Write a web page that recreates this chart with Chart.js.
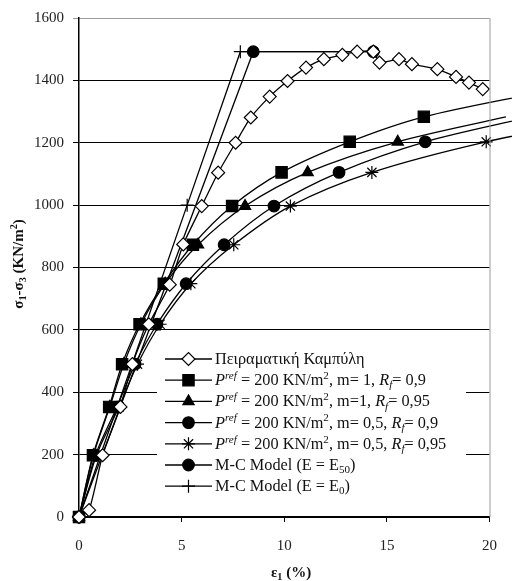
<!DOCTYPE html>
<html>
<head>
<meta charset="utf-8">
<script src="https://cdn.jsdelivr.net/npm/chart.js@4"></script>
<style>
  html, body { margin: 0; padding: 0; background: #fff; }
  #wrap { width: 512px; height: 581px; }
</style>
</head>
<body>
<div id="wrap"><canvas id="myChart" width="512" height="581"></canvas></div>
<script>
// データ (ε1 %, σ1-σ3 KN/m2)
const expStrain = [0, 0.49, 1.15, 2.02, 2.6, 3.4, 4.42, 5.08, 5.98, 6.78, 7.63, 8.37, 9.29, 10.16, 11.06, 11.93, 12.83, 13.55, 14.34, 14.64, 15.59, 16.22, 17.46, 18.37, 19.0, 19.67];
const expStress = [0, 22, 198, 353, 490, 618, 745, 874, 997, 1104, 1200, 1281, 1348, 1398, 1441, 1468, 1482, 1492, 1492, 1457, 1468, 1452, 1436, 1411, 1393, 1372];

// HS model: same stress levels, different strains
const hsStress = [0, 198, 353, 490, 618, 748, 873, 997, 1105, 1203, 1283, 1362];
const sqStrain = [0, 0.68, 1.47, 2.1, 2.95, 4.13, 5.55, 7.46, 9.87, 13.19, 16.8, 22.5];
const triStrain = [0, 0.7, 1.5, 2.18, 3.02, 4.2, 5.8, 8.09, 11.14, 15.53, 20.8];
const cirStrain = [0, 0.8, 1.85, 2.73, 3.8, 5.22, 7.07, 9.5, 12.67, 16.87, 22.0];
const starStrain = [0, 0.85, 1.95, 2.85, 3.95, 5.45, 7.54, 10.3, 14.27, 19.84, 26.0];

// Mohr-Coulomb
const mc50Strain = [0, 8.49, 14.34];
const mc50Stress = [0, 1492, 1492];
const mc0Strain = [0, 5.27, 7.86, 14.34];
const mc0Stress = [0, 1000, 1492, 1492];

const xTicks = [0, 5, 10, 15, 20];
const yTicks = [0, 200, 400, 600, 800, 1000, 1200, 1400, 1600];

const serif = "'Liberation Serif', 'Times New Roman', serif";

function pts(xs, ys) {
    return xs.map((x, i) => ({ x: x, y: ys[i] }));
}

const styles = [
    { pointStyle: 'rectRot', radius: 6.5, fill: '#fff', tension: 0.2 },
    { pointStyle: 'rect', radius: 8, fill: '#000', tension: 0.3 },
    { pointStyle: 'triangle', radius: 6.5, fill: '#000', tension: 0.3 },
    { pointStyle: 'circle', radius: 5.8, fill: '#000', tension: 0.3 },
    { pointStyle: 'star', radius: 6.5, fill: '#000', tension: 0.3 },
    { pointStyle: 'circle', radius: 5.8, fill: '#000', tension: 0 },
    { pointStyle: 'cross', radius: 6.5, fill: '#000', tension: 0 }
];

const seriesData = [
    pts(expStrain, expStress),
    pts(sqStrain, hsStress),
    pts(triStrain, hsStress),
    pts(cirStrain, hsStress),
    pts(starStrain, hsStress),
    pts(mc50Strain, mc50Stress),
    pts(mc0Strain, mc0Stress)
];

// 凡例のテキスト (部分ごとのスタイル)
function pref(mPart, rfPart) {
    return [
        { t: 'P', it: true },
        { t: 'ref', it: true, sup: true },
        { t: ' = 200 KN/m' },
        { t: '2', sup: true },
        { t: ', ' + mPart + ', ' },
        { t: 'R', it: true },
        { t: 'f', it: true, sub: true },
        { t: '= ' + rfPart }
    ];
}
const legendLabels = [
    [{ t: 'Πειραματική Καμπύλη' }],
    pref('m= 1', '0,9'),
    pref('m=1', '0,95'),
    pref('m= 0,5', '0,9'),
    pref('m= 0,5', '0,95'),
    [{ t: 'M-C Model (E = E' }, { t: '50', sub: true }, { t: ')' }],
    [{ t: 'M-C Model (E = E' }, { t: '0', sub: true }, { t: ')' }]
];

function drawRich(ctx, parts, x, y, size, bold) {
    ctx.textBaseline = 'alphabetic';
    ctx.textAlign = 'left';
    let cx = x;
    parts.forEach(p => {
        const s = (p.sup || p.sub) ? size * 0.68 : size;
        const dy = p.sup ? -size * 0.38 : (p.sub ? size * 0.2 : 0);
        ctx.font = (p.it ? 'italic ' : '') + (bold ? 'bold ' : '') + s + 'px ' + serif;
        ctx.fillText(p.t, cx, y + dy);
        cx += ctx.measureText(p.t).width;
    });
    return cx;
}

function richWidth(ctx, parts, size, bold) {
    let w = 0;
    parts.forEach(p => {
        const s = (p.sup || p.sub) ? size * 0.68 : size;
        ctx.font = (p.it ? 'italic ' : '') + (bold ? 'bold ' : '') + s + 'px ' + serif;
        w += ctx.measureText(p.t).width;
    });
    return w;
}

const datasets = seriesData.map((d, i) => ({
    data: d,
    showLine: true,
    borderColor: '#000',
    borderWidth: 1.3,
    tension: styles[i].tension,
    pointStyle: styles[i].pointStyle,
    pointRadius: styles[i].radius,
    pointHoverRadius: styles[i].radius,
    pointBackgroundColor: styles[i].fill,
    pointBorderColor: '#000',
    pointBorderWidth: 1.2,
    clip: false
}));

// 凡例とタイトル
const customDraw = {
    id: 'customDraw',
    afterDatasetsDraw(chart) {
        const { ctx, chartArea } = chart;
        ctx.save();
        // plot border (right) gray
        ctx.strokeStyle = '#9a9a9a';
        ctx.lineWidth = 1;
        ctx.beginPath();
        ctx.moveTo(chartArea.right + 0.5, chartArea.top);
        ctx.lineTo(chartArea.right + 0.5, chartArea.bottom);
        ctx.stroke();

        // legend box
        ctx.fillStyle = '#fff';
        ctx.fillRect(157, 342, 309, 158);
        legendLabels.forEach((parts, i) => {
            const y = 359 + 21.2 * i;
            ctx.strokeStyle = '#000';
            ctx.lineWidth = 1.3;
            ctx.beginPath();
            ctx.moveTo(165, y);
            ctx.lineTo(212, y);
            ctx.stroke();
            ctx.fillStyle = styles[i].fill;
            ctx.strokeStyle = '#000';
            ctx.lineWidth = 1.2;
            Chart.helpers.drawPoint(ctx, { pointStyle: styles[i].pointStyle, radius: styles[i].radius, rotation: 0, borderWidth: 1.2 }, 188.5, y);
            ctx.fillStyle = '#111';
            drawRich(ctx, parts, 215, y + 5, 16.3, false);
        });
        ctx.restore();
    },
    afterDraw(chart) {
        const { ctx } = chart;
        ctx.save();
        ctx.fillStyle = '#111';
        // x title
        const xParts = [{ t: 'ε' }, { t: '1', sub: true }, { t: ' (%)' }];
        let w = richWidth(ctx, xParts, 15, true);
        drawRich(ctx, xParts, 291 - w / 2, 577, 15, true);
        // y title
        const yParts = [{ t: 'σ' }, { t: '1', sub: true }, { t: '-σ' }, { t: '3', sub: true }, { t: ' (KN/m' }, { t: '2', sup: true }, { t: ')' }];
        w = richWidth(ctx, yParts, 15, true);
        ctx.translate(23, 264);
        ctx.rotate(-Math.PI / 2);
        drawRich(ctx, yParts, -w / 2, 0, 15, true);
        ctx.restore();
    }
};

const config = {
    type: 'scatter',
    data: { datasets },
    options: {
        responsive: false,
        animation: false,
        layout: { padding: { left: 0, top: 17, right: 10, bottom: 0 } },
        plugins: {
            legend: { display: false },
            tooltip: { enabled: false }
        },
        scales: {
            x: {
                type: 'linear',
                min: 0,
                max: 20,
                afterBuildTicks: s => { s.ticks = xTicks.map(v => ({ value: v })); },
                afterFit: s => { s.height = 64; },
                grid: { drawOnChartArea: false, drawTicks: true, tickLength: 5, color: '#000', lineWidth: 1 },
                border: { display: true, color: '#000', width: 1.5 },
                ticks: { font: { family: serif, size: 15 }, color: '#222', padding: 15, maxRotation: 0, callback: v => String(v) }
            },
            y: {
                type: 'linear',
                min: 0,
                max: 1600,
                afterBuildTicks: s => { s.ticks = yTicks.map(v => ({ value: v })); },
                afterFit: s => { s.width = 79; },
                grid: {
                    color: c => (c.tick && c.tick.value === 1600) ? '#9a9a9a' : '#000',
                    lineWidth: 1,
                    tickLength: 6
                },
                border: { display: true, color: '#000', width: 1.5 },
                ticks: { font: { family: serif, size: 15 }, color: '#222', padding: 9, callback: v => String(v) }
            }
        }
    },
    plugins: [customDraw]
};

const myChart = new Chart(document.getElementById('myChart'), config);
</script>
</body>
</html>
